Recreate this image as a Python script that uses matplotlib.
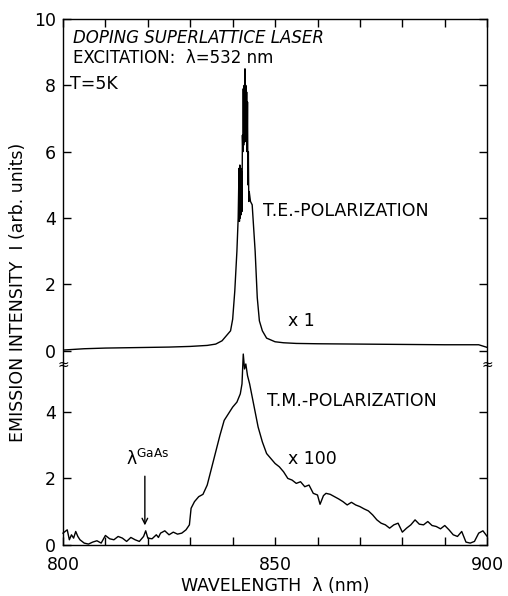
import matplotlib.pyplot as plt

# T.E. polarization (x 1), upper panel
te_wl = [800, 805, 810, 815, 820, 825, 830, 834, 836, 837.5, 838.5, 839.5, 840.0, 840.5,
         841.0, 841.3, 841.5, 841.6, 841.7, 841.8, 841.9, 842.0, 842.1, 842.2, 842.3, 842.4,
         842.5, 842.6, 842.7, 842.8, 842.9, 843.0, 843.1, 843.2, 843.3, 843.4, 843.5, 843.6,
         843.7, 843.8, 843.9, 844.2, 844.6, 845.0, 845.3, 845.8, 846.3, 847.0, 848.0, 850,
         852, 855, 860, 870, 880, 890, 898, 900]
te_int = [0.02, 0.06, 0.08, 0.09, 0.10, 0.11, 0.13, 0.16, 0.20, 0.30, 0.45, 0.60, 0.95, 1.80,
          3.00, 4.00, 5.50, 3.90, 5.60, 4.00, 5.50, 4.10, 5.40, 4.20, 6.50, 6.00,
          7.90, 6.20, 8.00, 6.30, 8.50, 6.50, 8.00, 6.30, 7.80, 6.00, 7.50, 5.00,
          6.00, 4.50, 4.80, 4.50, 4.40, 3.60, 3.00, 1.60, 0.90, 0.60, 0.38, 0.27,
          0.24, 0.22, 0.21, 0.20, 0.19, 0.18, 0.18, 0.10]

# T.M. polarization (x 100), lower panel
tm_wl = [800, 801, 801.5, 802, 802.5, 803, 803.5, 804, 805, 806, 807, 808, 809, 810, 811,
         812, 813, 814, 815, 816, 817, 818, 819, 819.5, 820, 821, 822, 822.5, 823, 824,
         825, 826, 827, 828, 829, 829.8, 830.2, 831, 832, 833, 834, 835, 836, 837, 838,
         839, 840, 841, 841.8, 842.2, 842.5, 842.8, 843.1, 843.5, 844, 845, 846, 847, 848,
         849, 850, 851, 852, 853, 854, 855, 856, 857, 858, 859, 860, 860.6, 861.4, 862,
         863, 864, 865, 866, 867, 868, 869, 870, 871, 872, 873, 874, 875, 876, 877, 878,
         879, 880, 881, 882, 883, 884, 885, 886, 887, 888, 889, 890, 891, 892, 893, 894,
         895, 896, 897, 898, 899, 900]
tm_int = [0.35, 0.45, 0.15, 0.30, 0.20, 0.40, 0.25, 0.15, 0.05, 0.02, 0.08, 0.12, 0.05, 0.28, 0.18,
          0.15, 0.25, 0.20, 0.10, 0.22, 0.15, 0.10, 0.25, 0.42, 0.20, 0.18, 0.30, 0.22, 0.35, 0.42,
          0.30, 0.38, 0.32, 0.35, 0.45, 0.60, 1.10, 1.30, 1.45, 1.52, 1.80, 2.30, 2.80, 3.30, 3.75,
          3.95, 4.15, 4.30, 4.55, 4.85, 5.75, 5.30, 5.45, 5.10, 4.85, 4.20, 3.55, 3.10, 2.75,
          2.60, 2.45, 2.35, 2.20, 2.00, 1.95, 1.85, 1.90, 1.75, 1.80, 1.55, 1.50, 1.22, 1.48, 1.55,
          1.52, 1.45, 1.38, 1.30, 1.20, 1.28, 1.20, 1.15, 1.08, 1.02, 0.90, 0.75, 0.65, 0.60, 0.50, 0.60,
          0.65, 0.38, 0.50, 0.60, 0.75, 0.62, 0.60, 0.70, 0.58, 0.55, 0.48, 0.58, 0.45, 0.30, 0.25, 0.40,
          0.08, 0.05, 0.10, 0.35, 0.42, 0.25]

x_ticks = [800, 850, 900]
x_minor = [810, 820, 830, 840, 860, 870, 880, 890]
top_yticks = [0, 2, 4, 6, 8, 10]
bot_yticks = [0, 2, 4]

plt.rcParams['font.family'] = 'DejaVu Sans'
fs = 12.5

fig = plt.figure(figsize=(5.08, 5.96), dpi=100)
gs = fig.add_gridspec(2, 1, height_ratios=[10.4, 5.45], hspace=0,
                      left=0.124, right=0.959, top=0.968, bottom=0.086)
ax1 = fig.add_subplot(gs[0])
ax2 = fig.add_subplot(gs[1], sharex=ax1)

ax1.plot(te_wl, te_int, color='black', lw=1.0)
# the T.M. peak pokes just above the break, so no clipping
ax2.plot(tm_wl, tm_int, color='black', lw=1.0, clip_on=False)

ax1.set_xlim(800, 900)
ax1.set_ylim(-0.4, 10)
ax2.set_ylim(0, 5.45)

for ax in (ax1, ax2):
    ax.tick_params(direction='in', which='both', right=True, top=True,
                   labelsize=fs, length=6, width=1, pad=5)
    for s in ax.spines.values():
        s.set_linewidth(1.0)
ax1.spines['bottom'].set_visible(False)
ax2.spines['top'].set_visible(False)
ax1.tick_params(which='both', bottom=False, labelbottom=False)
ax2.tick_params(which='both', top=False)
ax2.tick_params(axis='x', pad=8)

ax2.set_xticks(x_ticks)
ax2.set_xticks(x_minor, minor=True)
ax1.set_yticks(top_yticks)
ax2.set_yticks(bot_yticks)

ax2.set_xlabel('WAVELENGTH  λ (nm)', fontsize=fs, labelpad=2)
fig.text(0.036, 0.51, 'EMISSION INTENSITY  I (arb. units)', rotation=90,
         ha='center', va='center', fontsize=fs)

# annotations
ax1.text(802.4, 9.42, 'DOPING SUPERLATTICE LASER', fontsize=12, style='italic', va='center')
ax1.text(802.4, 8.84, 'EXCITATION:  λ=532 nm', fontsize=12, va='center')
ax1.text(801.7, 8.05, 'T=5K', fontsize=fs, va='center')
ax1.text(847.2, 4.2, 'T.E.-POLARIZATION', fontsize=fs, va='center')
ax1.text(853, 0.9, 'x 1', fontsize=fs, va='center')
ax2.text(848, 4.33, 'T.M.-POLARIZATION', fontsize=fs, va='center')
ax2.text(853, 2.6, 'x 100', fontsize=fs, va='center')
ax2.text(814.8, 2.6, r'λ$^{\rm GaAs}$', fontsize=fs, va='center')
ax2.annotate('', xy=(819.3, 0.5), xytext=(819.3, 2.15),
             arrowprops=dict(arrowstyle='->', color='black', lw=1))

# axis break marks
for xf in (0.124, 0.959):
    fig.text(xf, 1 - 365 / 596, '≈', fontsize=10, ha='center', va='center')

fig.savefig('out.png', dpi=100)
